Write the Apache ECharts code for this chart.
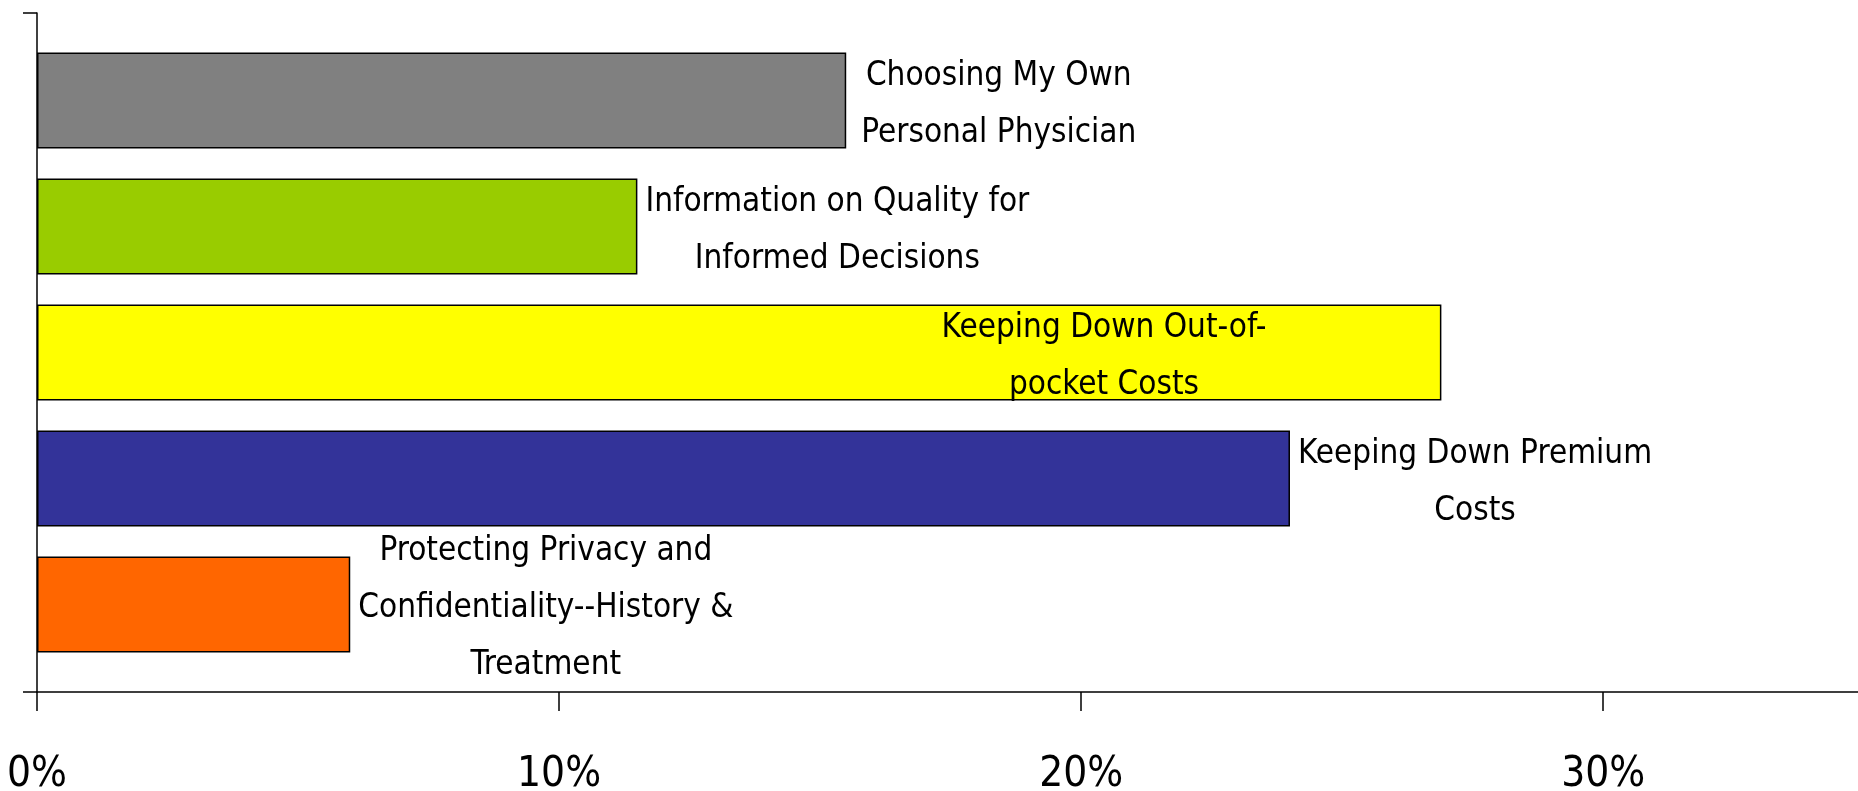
<!DOCTYPE html>
<html>
<head>
<meta charset="utf-8">
<style>
  html, body { margin: 0; padding: 0; background: #fff; }
  #chart { width: 1858px; height: 791px; }
</style>
<script src="https://cdn.jsdelivr.net/npm/echarts@6/dist/echarts.min.js"></script>
</head>
<body>
<div id="chart"></div>
<script>
// top to bottom, as in the picture
const names = [
  'Choosing My Own\nPersonal Physician',
  'Information on Quality for\nInformed Decisions',
  'Keeping Down Out-of-\npocket Costs',
  'Keeping Down Premium\nCosts',
  'Protecting Privacy and\nConfidentiality--History &\nTreatment'
]
const values = [15.5, 11.5, 26.9, 24.0, 6.0]
const tickValues = [0, 10, 20, 30]

const colors = ['#808080', '#99cc00', '#ffff00', '#333399', '#ff6600']
const labelFont = "'Liberation Sans Narrow', 'DejaVu Sans Condensed', 'Arial Narrow', sans-serif"

const chart = echarts.init(document.getElementById('chart'))

const series = names.map((name, i) => {
    const inside = i === 2
    return {
        name: name,
        type: 'bar',
        data: [values[i]],
        barWidth: 96,
        barGap: '31.25%',
        itemStyle: {
            color: colors[i],
            borderColor: '#000',
            borderWidth: 1.5
        },
        label: {
            show: true,
            position: inside ? 'insideRight' : 'right',
            distance: inside ? 175 : (i === 0 ? 15 : 8),
            offset: [0, 4],
            formatter: () => name.split('\n').map(l => '{c|' + l + '}').join('\n'),
            rich: {
                c: {
                    align: 'center',
                    fontFamily: labelFont,
                    fontSize: 33,
                    lineHeight: 57,
                    color: '#000'
                }
            }
        }
    }
})

const option = {
    animation: false,
    grid: {
        left: 37,
        right: 0,
        top: 13,
        bottom: 99,
        containLabel: false,
        outerBoundsMode: 'none'
    },
    xAxis: {
        type: 'value',
        min: 0,
        max: 34.88,
        interval: 10,
        splitLine: { show: false },
        axisLine: { show: true, lineStyle: { color: '#000', width: 1.5 } },
        axisTick: {
            show: true,
            length: 19,
            customValues: tickValues,
            lineStyle: { color: '#000', width: 1.5 }
        },
        axisLabel: {
            customValues: tickValues,
            formatter: '{value}%',
            margin: 62,
            fontFamily: labelFont,
            fontSize: 42,
            color: '#000'
        }
    },
    yAxis: {
        type: 'category',
        data: [''],
        axisLine: { show: true, lineStyle: { color: '#000', width: 1.5 } },
        axisTick: { show: true, length: 14, lineStyle: { color: '#000', width: 1.5 } },
        axisLabel: { show: false }
    },
    series: series
}

chart.setOption(option)
</script>
</body>
</html>
